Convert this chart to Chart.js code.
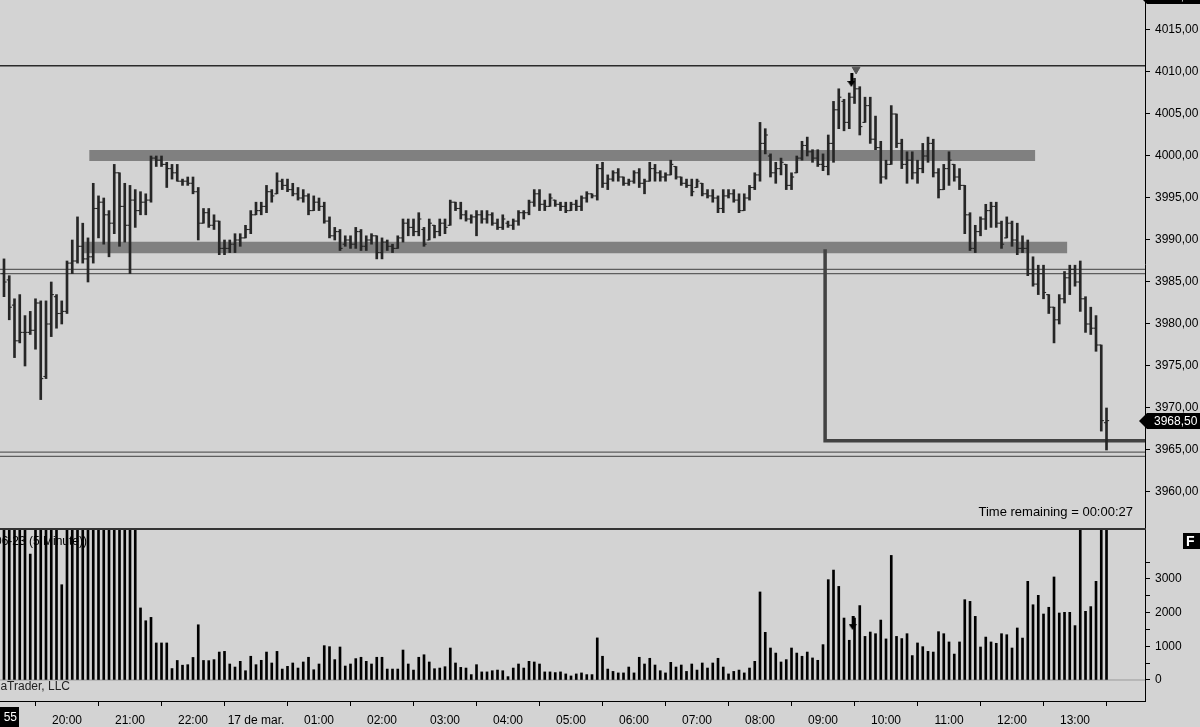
<!DOCTYPE html>
<html><head><meta charset="utf-8">
<script src="https://cdn.jsdelivr.net/npm/chart.js@4.4.0/dist/chart.umd.min.js"></script>
<style>
html,body{margin:0;padding:0;background:#d3d3d3;width:1200px;height:727px;overflow:hidden;}
canvas{position:absolute;left:0;}
#pc{top:0}
#vc{top:528px}
</style></head><body>
<canvas id="pc" width="1200" height="528"></canvas>
<canvas id="vc" width="1200" height="199"></canvas>
<script>
// ---- data (one entry per 5-minute bar, 18:55-19:00 .. 13:25-13:30) ----
const highs = [
3987.75,3985.75,3983.0,3983.5,3981.0,3981.5,3983.0,3982.75,3982.75,3985.0,
3983.5,3982.75,3987.5,3990.0,3992.75,3992.0,3990.25,3996.75,3995.25,3995.0,
3993.5,3999.0,3998.0,3996.75,3996.5,3996.0,3995.75,3995.5,4000.0,4000.0,
4000.0,3999.25,3999.0,3999.0,3997.25,3997.5,3997.5,3996.25,3993.75,3993.75,
3993.0,3992.25,3990.0,3990.0,3990.75,3990.75,3991.75,3993.5,3994.5,3994.5,
3996.5,3996.0,3998.0,3997.25,3997.25,3996.75,3996.25,3996.0,3995.5,3995.25,
3995.0,3994.5,3992.75,3991.5,3991.25,3990.5,3990.5,3991.5,3991.25,3990.5,
3990.75,3990.5,3990.25,3990.0,3989.5,3990.5,3992.5,3992.5,3992.5,3993.25,
3991.5,3992.5,3991.75,3992.5,3992.5,3994.75,3994.5,3994.5,3993.5,3993.0,
3993.5,3993.5,3993.5,3993.25,3992.5,3993.0,3992.25,3992.5,3993.5,3993.5,
3994.75,3996.0,3996.0,3994.75,3995.5,3994.75,3994.5,3994.5,3994.5,3994.75,
3995.25,3995.75,3995.5,3999.0,3999.25,3997.75,3998.25,3998.5,3997.5,3997.25,
3998.25,3998.5,3997.25,3999.25,3999.0,3998.25,3998.0,3999.5,3998.75,3997.5,
3997.25,3997.25,3997.25,3996.75,3996.0,3996.0,3995.25,3996.0,3996.0,3996.0,
3995.5,3995.5,3996.5,3998.0,4004.0,4003.25,4000.25,3999.25,3999.75,3999.0,
3998.0,4000.0,4001.75,4002.25,4000.75,4000.75,4000.25,4002.5,4006.5,4008.0,
4006.75,4007.5,4009.25,4008.25,4007.0,4007.0,4004.75,4001.75,3999.5,4006.0,
4005.0,4002.0,4000.5,4000.5,3999.5,4001.5,4002.25,4002.0,3998.5,3999.0,
4000.5,3999.0,3998.5,3996.5,3993.25,3991.75,3992.75,3994.25,3994.5,3994.5,
3992.25,3992.75,3992.25,3992.0,3990.5,3990.0,3988.0,3987.0,3987.0,3983.5,
3982.0,3983.5,3986.25,3987.0,3987.0,3987.5,3983.25,3982.0,3981.0,3977.5,
3970.0];
const lows = [
3983.25,3980.5,3976.0,3977.75,3975.0,3978.75,3977.0,3971.0,3973.5,3978.5,
3979.5,3980.0,3981.25,3986.0,3987.25,3987.25,3985.0,3987.25,3990.25,3989.5,
3988.0,3990.75,3989.25,3989.75,3986.0,3991.5,3993.0,3993.0,3994.5,3998.75,
3998.75,3996.25,3997.25,3997.0,3996.5,3996.5,3995.5,3990.0,3992.0,3991.5,
3991.25,3988.25,3988.25,3988.5,3988.5,3989.25,3990.25,3990.75,3993.0,3993.0,
3993.25,3994.5,3995.5,3996.0,3995.75,3995.25,3994.75,3994.5,3993.0,3993.5,
3993.5,3992.0,3990.25,3990.0,3988.75,3989.25,3989.0,3989.0,3988.75,3988.75,
3989.5,3987.75,3987.75,3988.75,3988.5,3989.0,3989.75,3990.5,3990.5,3990.5,
3989.25,3990.0,3990.25,3990.5,3990.75,3991.75,3993.5,3992.5,3992.25,3992.0,
3990.5,3992.0,3992.0,3991.75,3991.25,3991.25,3991.5,3991.25,3991.75,3992.5,
3993.0,3994.0,3993.5,3993.5,3994.0,3994.0,3993.5,3993.25,3993.5,3993.5,
3993.5,3994.5,3995.0,3994.75,3996.25,3996.0,3997.0,3997.0,3996.5,3996.5,
3996.75,3996.25,3995.5,3997.0,3997.0,3997.0,3997.0,3997.75,3997.25,3996.5,
3996.25,3995.25,3996.25,3995.25,3995.0,3994.5,3993.25,3993.25,3995.0,3994.5,
3993.25,3993.5,3994.75,3996.0,3997.0,4000.25,3997.5,3996.75,3997.75,3996.0,
3996.0,3998.0,3999.5,4000.0,3999.25,3998.75,3998.25,3997.75,3999.25,4003.25,
4003.0,4003.25,4006.25,4002.5,4004.0,4001.5,4000.75,3996.75,3997.25,3999.0,
4001.0,3998.5,3996.75,3997.25,3996.75,3998.0,3999.25,3997.5,3995.0,3996.0,
3996.5,3997.0,3996.0,3990.75,3988.75,3988.5,3990.5,3991.25,3991.5,3991.5,
3989.0,3990.25,3989.25,3988.25,3988.5,3985.75,3984.5,3983.5,3983.0,3981.25,
3977.75,3980.0,3982.5,3983.5,3984.5,3981.5,3979.0,3978.75,3976.75,3967.25,
3965.0];
const opens = [
3986.0,3985.25,3982.25,3978.0,3979.0,3979.0,3979.25,3982.5,3973.75,3980.0,
3983.25,3981.25,3981.5,3987.25,3987.5,3989.25,3987.75,3988.0,3993.75,3994.5,
3993.0,3992.0,3998.0,3994.0,3991.75,3994.75,3993.5,3994.5,3994.75,3999.75,
3999.5,3999.0,3998.5,3998.0,3997.0,3997.0,3996.75,3995.75,3992.0,3993.25,
3991.75,3992.25,3989.0,3989.0,3989.5,3990.0,3990.25,3991.25,3993.0,3993.5,
3994.0,3995.75,3995.5,3997.0,3996.5,3996.0,3995.5,3995.0,3995.25,3993.5,
3994.5,3994.0,3992.25,3990.5,3991.0,3989.5,3990.0,3989.5,3991.0,3989.25,
3990.0,3990.5,3988.5,3989.75,3989.25,3989.0,3990.25,3992.0,3991.5,3991.0,
3991.25,3990.0,3991.75,3991.0,3992.0,3991.75,3994.5,3993.75,3993.0,3992.5,
3992.75,3993.0,3992.5,3993.0,3992.0,3991.5,3992.0,3991.75,3992.25,3993.25,
3993.25,3994.5,3995.5,3994.25,3994.0,3994.75,3994.25,3994.0,3993.5,3994.25,
3994.0,3995.0,3995.5,3995.25,3998.5,3996.75,3997.25,3998.0,3997.5,3996.75,
3997.0,3998.0,3996.75,3997.0,3998.5,3998.0,3997.5,3997.75,3998.75,3997.5,
3996.75,3996.5,3996.25,3996.75,3995.5,3995.25,3995.0,3993.75,3995.25,3995.5,
3994.75,3993.5,3995.0,3996.25,3997.75,4001.5,4000.0,3998.0,3998.5,3999.0,
3996.5,3998.0,3999.75,4001.25,4000.5,3999.75,3999.0,3998.75,4001.5,4005.5,
4006.5,4004.0,4007.0,4008.0,4004.0,4006.0,4002.0,4001.0,3997.5,3999.0,
4005.0,4001.5,3999.0,3999.5,3998.0,3998.5,4000.0,4001.5,3998.0,3996.0,
3998.5,3999.0,3997.5,3996.5,3993.0,3989.0,3991.0,3992.5,3993.5,3994.0,
3992.0,3990.25,3992.0,3990.0,3989.0,3989.0,3986.0,3984.75,3986.0,3983.5,
3982.0,3980.5,3983.0,3985.5,3986.5,3985.0,3983.0,3980.0,3979.5,3977.5,
3968.25];
const closes = [
3985.0,3982.0,3978.0,3979.0,3979.0,3979.25,3982.5,3973.5,3980.0,3983.5,
3981.25,3981.5,3987.25,3987.5,3989.25,3987.75,3988.0,3993.75,3994.5,3993.0,
3992.0,3998.0,3994.0,3991.75,3994.75,3993.5,3994.5,3994.75,3999.75,3999.5,
3999.0,3998.5,3998.0,3997.0,3997.0,3996.75,3995.75,3992.0,3993.25,3991.75,
3992.25,3989.0,3989.0,3989.5,3990.0,3990.25,3991.25,3993.0,3993.5,3994.0,
3995.75,3995.25,3997.0,3996.5,3996.0,3995.5,3995.0,3995.25,3993.5,3994.5,
3994.0,3992.25,3990.5,3991.0,3989.0,3990.0,3989.5,3991.0,3989.25,3990.0,
3990.5,3988.5,3989.75,3989.25,3989.0,3990.25,3992.0,3991.5,3991.0,3992.5,
3989.5,3992.0,3991.0,3992.0,3991.5,3994.5,3993.75,3993.0,3992.5,3992.75,
3993.0,3992.5,3993.0,3992.0,3991.5,3992.5,3991.75,3992.25,3993.25,3993.25,
3994.5,3995.5,3994.25,3994.0,3995.0,3994.25,3994.0,3993.5,3994.25,3994.0,
3995.0,3995.5,3995.25,3998.5,3996.75,3997.25,3998.0,3997.5,3996.75,3997.0,
3998.0,3996.75,3997.0,3998.5,3998.0,3997.5,3997.75,3999.0,3997.5,3996.75,
3996.5,3995.75,3997.0,3995.5,3995.25,3995.0,3993.75,3995.25,3995.5,3994.75,
3993.5,3995.0,3996.25,3997.75,4001.5,4002.5,3998.0,3998.5,3999.25,3996.5,
3997.5,3999.75,4001.25,4000.5,3999.75,3999.0,3998.75,4001.5,4005.5,4007.0,
4004.0,4007.0,4008.0,4003.5,4006.0,4002.0,4001.0,3997.5,3999.0,4005.0,
4001.5,3999.0,3999.5,3998.0,3998.5,4000.0,4001.5,3998.0,3996.0,3998.5,
3999.5,3997.5,3996.5,3993.0,3989.0,3991.0,3992.5,3993.5,3994.0,3992.0,
3989.5,3992.0,3990.0,3989.0,3989.0,3986.0,3984.75,3986.0,3983.75,3982.0,
3980.5,3983.0,3985.5,3986.5,3985.0,3983.0,3980.0,3979.5,3977.5,3968.5,
3968.5];
const volumes = [
8500,7200,9800,6900,7400,3740,6100,8800,7600,5400,
6300,2830,9200,7700,8100,6600,5900,10400,7300,6800,
5600,9100,7000,6200,5300,5100,2140,1760,1860,1100,
1100,1100,340,580,440,455,670,1640,580,575,
605,830,850,475,385,555,275,705,455,585,
830,505,850,325,405,505,355,535,675,305,
475,1020,990,605,980,415,475,635,675,555,
475,675,675,325,325,325,890,475,295,675,
750,535,335,355,395,950,505,375,355,160,
455,240,240,275,295,275,100,355,475,355,
555,535,475,240,240,220,240,180,120,180,
210,160,160,1250,705,325,255,210,210,385,
210,675,475,645,445,275,210,525,385,445,
255,475,295,505,355,505,645,385,180,255,
295,210,355,555,2615,1415,950,800,535,605,
950,800,705,830,655,585,1050,2980,3265,2780,
1840,1180,1840,2210,1295,1425,1375,1780,1220,3700,
1295,1230,1375,725,1100,990,850,830,1435,1375,
1130,770,1130,2385,2335,1890,980,1275,1130,1090,
1375,1345,950,1545,1245,2930,2235,2515,1960,2160,
3060,1990,2010,2010,1615,6500,2040,2180,2930,9500,
7800];
const timeTickIndex  = [0,12,24,36,48,60,72,84,96,108,120,132,144,156,168,180,192,204];
const timeTickLabels = ['','20:00','21:00','22:00','17 de mar.','01:00','02:00','03:00','04:00','05:00','06:00','07:00','08:00','09:00','10:00','11:00','12:00','13:00'];
const priceTicks = [3960,3965,3970,3975,3980,3985,3990,3995,4000,4005,4010,4015];
const volumeTicks = [0,500,1000,1500,2000,2500,3000,3500];
const volumeLabels = [0,1000,2000,3000];

// drawn levels (price, from-bar, to-bar)
const bandUpper = {price:4000.06, from:16.25, to:196.4};
const bandLower = {price:3989.1, from:15.1, to:202.5};
const topLine = 4010.75;
const doubleUpper = [3986.5, 3986.0];
const doubleLower = [3964.75, 3964.25];
const measure = {bar:156.4, top:3988.9, bottom:3966.1};
const signalBar = 161.4;

// view ranges
const X_MIN = -0.762, X_MAX = 217.33;
const P_MIN = 3955.714, P_MAX = 4018.571;
const V_MIN = -624, V_MAX = 4455;

Chart.defaults.font.family = '"Liberation Sans", Arial, sans-serif';
Chart.defaults.font.size = 12;
Chart.defaults.color = '#000';

const ink = '#262626';
const bars = highs.map((h,i)=>({x:i, y:[lows[i], h]}));
const openPts = opens.map((o,i)=>({x:i-0.25, y:o}));
const closePts = closes.map((c,i)=>({x:i+0.25, y:c}));
const span = (p)=>[{x:X_MIN,y:p},{x:X_MAX,y:p}];
const lineDs = (data,color,width,order)=>({type:'line',data,borderColor:color,borderWidth:width,pointRadius:0,borderCapStyle:'butt',tension:0,order,fill:false});
const noPad = s=>{s.paddingTop=0;s.paddingBottom=0;s.paddingLeft=0;s.paddingRight=0;};

function makeArrow(w,h){
  const c=document.createElement('canvas');c.width=w;c.height=h;
  const g=c.getContext('2d');g.fillStyle='#000';
  g.fillRect(Math.floor(w/2)-1,0,3,h-5);
  g.beginPath();g.moveTo(0,h-6);g.lineTo(w,h-6);g.lineTo(w/2,h);g.closePath();g.fill();
  return c;
}
const arrowImg = makeArrow(8,14);
const arrowImg2 = makeArrow(8,14);

const pricePlugin = {
  id:'priceDecor',
  afterDraw(chart){
    const ctx = chart.ctx, y = chart.scales.y;
    ctx.save();
    const last = closes[closes.length-1];
    const py = Math.round(y.getPixelForValue(last));
    ctx.fillStyle='#000';
    ctx.beginPath();ctx.moveTo(1139,py);ctx.lineTo(1147,py-8);ctx.lineTo(1200,py-8);ctx.lineTo(1200,py+8);ctx.lineTo(1147,py+8);ctx.closePath();ctx.fill();
    ctx.fillStyle='#fff';ctx.font='12px "Liberation Sans", Arial, sans-serif';ctx.textBaseline='middle';ctx.textAlign='left';
    ctx.fillText(last.toFixed(2).replace('.',','),1154,py+1);
    ctx.fillStyle='#000';
    ctx.beginPath();ctx.moveTo(1139,-4);ctx.lineTo(1147,-12);ctx.lineTo(1200,-12);ctx.lineTo(1200,4);ctx.lineTo(1147,4);ctx.closePath();ctx.fill();
    ctx.fillStyle='#fff';ctx.fillText('4016,75',1154,-3);
    ctx.fillStyle='#000';ctx.textAlign='right';ctx.font='13px "Liberation Sans", Arial, sans-serif';
    ctx.fillText('Time remaining = 00:00:27',1133,512);
    ctx.restore();
  }
};

new Chart(document.getElementById('pc'),{
  type:'bar',
  data:{datasets:[
    {type:'bar',data:bars,backgroundColor:ink,borderWidth:0,barThickness:2,grouped:false,order:2},
    {type:'line',data:openPts,showLine:false,pointStyle:'line',pointRadius:1.3,pointBorderWidth:1.1,pointBorderColor:ink,borderColor:ink,order:1},
    {type:'line',data:closePts,showLine:false,pointStyle:'line',pointRadius:1.3,pointBorderWidth:1.1,pointBorderColor:ink,borderColor:ink,order:1},
    lineDs([{x:bandUpper.from,y:bandUpper.price},{x:bandUpper.to,y:bandUpper.price}],'#808080',11,10),
    lineDs([{x:bandLower.from,y:bandLower.price},{x:bandLower.to,y:bandLower.price}],'#808080',11.5,10),
    lineDs(span(topLine),'#2a2a2a',1.5,9),
    lineDs(span(doubleUpper[0]),'#5e5e5e',1.3,9),
    lineDs(span(doubleUpper[1]),'#5e5e5e',1.3,9),
    lineDs(span(doubleLower[0]),'#5e5e5e',1.3,9),
    lineDs(span(doubleLower[1]),'#5e5e5e',1.3,9),
    lineDs([{x:measure.bar,y:measure.top},{x:measure.bar,y:measure.bottom},{x:X_MAX,y:measure.bottom}],'#424242',3.5,8),
    {type:'line',data:[{x:162.3,y:4010.3}],showLine:false,pointStyle:'triangle',rotation:180,pointRadius:4.5,pointBackgroundColor:'#555',pointBorderColor:'#555',pointBorderWidth:1,order:0},
    {type:'line',data:[{x:signalBar,y:4009.05}],showLine:false,pointStyle:arrowImg,order:0}
  ]},
  options:{
    animation:false,responsive:false,events:[],
    layout:{padding:0,autoPadding:false},
    plugins:{legend:{display:false},tooltip:{enabled:false}},
    scales:{
      x:{type:'linear',min:X_MIN,max:X_MAX,display:false,offset:false},
      y:{position:'right',min:P_MIN,max:P_MAX,
         afterFit:s=>{s.width=55;noPad(s);},
         afterBuildTicks:s=>{s.ticks=priceTicks.map(v=>({value:v}));},
         ticks:{padding:5,color:'#000',callback:v=>Number(v).toFixed(2).replace('.',',')},
         grid:{display:true,drawOnChartArea:false,drawTicks:true,tickLength:5,color:'#000'},
         border:{display:true,color:'#000',width:1}}
    }
  },
  plugins:[pricePlugin]
});

const volPlugin = {
  id:'volDecor',
  beforeDatasetsDraw(chart){
    const ctx=chart.ctx;ctx.save();
    ctx.font='12px "Liberation Sans", Arial, sans-serif';ctx.fillStyle='#000';ctx.textBaseline='middle';ctx.textAlign='right';
    ctx.fillText('VOL(ES 06-23 (5 Minute))',87,14);
    ctx.fillStyle='#222';
    ctx.fillText('\u00a9 2023 NinjaTrader, LLC',70,159);
    ctx.restore();
  },
  afterDraw(chart){
    const ctx=chart.ctx;ctx.save();
    ctx.fillStyle='#333';ctx.fillRect(0,0,1146,2);
    ctx.fillStyle='#000';ctx.fillRect(1183,5,17,16);
    ctx.fillStyle='#fff';ctx.font='bold 14px "Liberation Sans", Arial, sans-serif';ctx.textBaseline='middle';ctx.textAlign='left';
    ctx.fillText('F',1186,14);
    ctx.fillStyle='#000';ctx.fillRect(0,179,19,20);
    ctx.fillStyle='#fff';ctx.font='12px "Liberation Sans", Arial, sans-serif';ctx.textAlign='right';
    ctx.fillText('55',17,190);
    ctx.restore();
  }
};

new Chart(document.getElementById('vc'),{
  type:'bar',
  data:{datasets:[
    {type:'bar',data:volumes.map((v,i)=>({x:i,y:v})),backgroundColor:'#000',borderWidth:0,barThickness:2,grouped:false,order:2},
    lineDs(span(0),'#9a9a9a',1,5),
    {type:'line',data:[{x:signalBar+0.25,y:1690}],showLine:false,pointStyle:arrowImg2,order:0}
  ]},
  options:{
    animation:false,responsive:false,events:[],
    layout:{padding:{top:2,left:0,right:0,bottom:0},autoPadding:false},
    plugins:{legend:{display:false},tooltip:{enabled:false}},
    scales:{
      x:{type:'linear',min:X_MIN,max:X_MAX,position:'bottom',offset:false,
         afterFit:s=>{s.height=26;noPad(s);},
         afterBuildTicks:s=>{s.ticks=timeTickIndex.map(v=>({value:v}));},
         ticks:{autoSkip:false,maxRotation:0,minRotation:0,padding:7,color:'#000',callback:(v,i)=>timeTickLabels[i]},
         grid:{display:true,drawOnChartArea:false,drawTicks:true,tickLength:5,color:'#000'},
         border:{display:true,color:'#000',width:1}},
      y:{position:'right',min:V_MIN,max:V_MAX,
         afterFit:s=>{s.width=55;noPad(s);},
         afterBuildTicks:s=>{s.ticks=volumeTicks.map(v=>({value:v}));},
         ticks:{padding:5,color:'#000',callback:v=>volumeLabels.includes(v)?String(v):''},
         grid:{display:true,drawOnChartArea:false,drawTicks:true,tickLength:5,color:'#000'},
         border:{display:true,color:'#000',width:1}}
    }
  },
  plugins:[volPlugin]
});
</script>
</body></html>
